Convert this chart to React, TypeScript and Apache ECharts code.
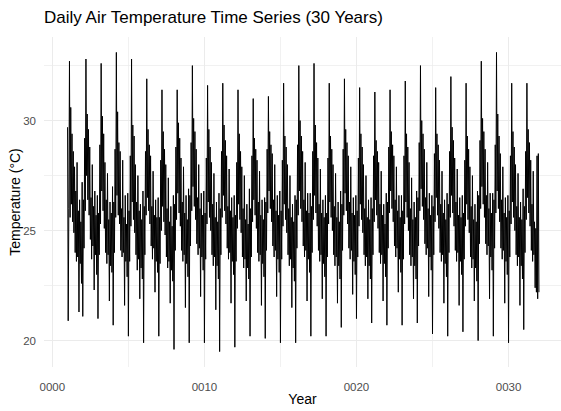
import React, { useEffect, useRef } from "react";
import * as echarts from "echarts";

// Half-monthly readings of the daily temperature trace (°C), starting at year 0001.0
const FIRST_YEAR = 1;
const STEPS_PER_YEAR = 24;

const temps0001to0010: number[] = [
  29.7, 20.9, 26.0, 32.7, 25.6, 30.6, 26.2, 29.4, 25.4, 28.6, 24.9, 27.9, 24.0, 26.8, 23.6, 28.1, 23.8, 25.9, 21.3, 26.4, 23.5, 25.4, 22.6, 27.2,
  21.1, 26.4, 24.2, 29.2, 25.9, 32.8, 27.5, 30.3, 26.4, 29.6, 25.7, 28.8, 24.6, 26.5, 23.7, 28.0, 24.3, 26.1, 22.3, 26.8, 23.9, 25.7, 23.0, 26.6,
  21.0, 25.8, 23.9, 28.9, 25.3, 32.6, 26.8, 30.2, 25.9, 29.4, 25.1, 28.1, 24.0, 26.4, 23.5, 27.6, 23.9, 25.5, 21.8, 26.3, 23.4, 25.8, 23.1, 27.0,
  20.7, 26.3, 24.0, 28.7, 25.6, 33.1, 26.6, 30.4, 25.7, 29.0, 25.3, 28.6, 24.1, 26.0, 23.8, 28.2, 24.0, 25.6, 21.6, 26.6, 23.6, 25.3, 22.9, 26.7,
  20.2, 25.9, 23.6, 28.4, 25.2, 32.8, 26.3, 29.8, 25.5, 29.3, 24.9, 28.0, 23.9, 26.3, 23.2, 27.5, 23.7, 25.9, 21.9, 26.2, 23.3, 25.5, 22.8, 26.8,
  19.9, 26.1, 23.9, 28.6, 25.7, 31.9, 26.5, 29.6, 25.9, 28.9, 25.3, 28.4, 24.3, 26.1, 23.7, 27.7, 24.2, 25.7, 22.2, 26.4, 23.6, 25.6, 23.1, 26.5,
  20.2, 25.6, 23.5, 28.2, 25.0, 31.4, 26.1, 29.5, 25.4, 28.7, 24.8, 28.0, 23.8, 26.0, 23.3, 27.4, 23.6, 25.4, 21.7, 26.1, 23.2, 25.2, 22.7, 26.6,
  19.6, 26.2, 24.1, 28.8, 25.5, 31.4, 26.7, 29.9, 25.8, 29.2, 25.2, 28.3, 24.1, 26.3, 23.6, 27.9, 23.9, 25.8, 21.5, 26.6, 23.5, 25.5, 22.9, 26.9,
  19.9, 26.6, 24.3, 29.0, 25.9, 32.5, 27.0, 30.1, 26.1, 29.5, 25.5, 28.7, 24.4, 26.5, 23.9, 28.0, 24.2, 26.0, 22.0, 26.7, 23.8, 25.7, 23.2, 26.8,
  19.9, 25.8, 23.7, 28.3, 25.3, 31.6, 26.3, 29.6, 25.6, 28.8, 25.0, 28.1, 23.9, 26.2, 23.4, 27.6, 23.8, 25.6, 21.4, 26.3, 23.4, 25.4, 22.8, 26.7,
];

const temps0011to0020: number[] = [
  19.5, 26.0, 23.9, 28.6, 25.6, 31.7, 26.6, 29.8, 25.9, 29.1, 25.3, 28.4, 24.2, 26.1, 23.7, 27.8, 24.0, 25.9, 21.7, 26.5, 23.6, 25.6, 23.0, 26.6,
  19.7, 25.7, 23.6, 28.1, 25.1, 31.4, 26.2, 29.4, 25.5, 28.6, 24.9, 27.9, 23.8, 26.0, 23.3, 27.5, 23.7, 25.5, 21.8, 26.2, 23.3, 25.3, 22.8, 26.9,
  20.2, 26.0, 23.8, 28.4, 25.4, 31.0, 26.4, 29.2, 25.7, 28.7, 25.1, 28.2, 24.0, 26.3, 23.6, 27.7, 23.9, 25.7, 21.6, 26.4, 23.5, 25.5, 22.9, 26.5,
  20.1, 26.3, 24.1, 28.7, 25.8, 31.1, 26.8, 29.5, 26.0, 28.9, 25.4, 28.5, 24.3, 26.4, 23.8, 28.0, 24.1, 25.9, 22.0, 26.6, 23.7, 25.7, 23.1, 26.8,
  19.9, 25.9, 23.7, 28.2, 25.2, 31.7, 26.2, 29.3, 25.5, 28.8, 24.9, 28.0, 23.9, 26.0, 23.4, 27.5, 23.7, 25.6, 21.5, 26.2, 23.3, 25.4, 22.7, 26.6,
  19.9, 26.4, 24.2, 28.9, 25.7, 32.5, 26.8, 30.0, 26.0, 29.3, 25.4, 28.6, 24.3, 26.4, 23.8, 28.1, 24.1, 25.9, 21.8, 26.7, 23.7, 25.8, 23.1, 26.7,
  20.2, 26.1, 24.0, 28.6, 25.5, 32.6, 26.6, 29.8, 25.8, 29.0, 25.2, 28.3, 24.1, 26.2, 23.6, 27.8, 23.9, 25.8, 21.9, 26.4, 23.5, 25.6, 22.9, 26.6,
  20.2, 25.8, 23.8, 28.3, 25.3, 31.7, 26.3, 29.3, 25.6, 28.7, 25.0, 28.0, 23.9, 26.1, 23.4, 27.6, 23.8, 25.6, 21.7, 26.3, 23.4, 25.4, 22.8, 26.8,
  20.6, 26.2, 24.1, 28.7, 25.7, 31.9, 26.7, 29.6, 25.9, 29.0, 25.3, 28.4, 24.2, 26.3, 23.7, 27.9, 24.1, 25.8, 22.1, 26.5, 23.6, 25.7, 23.0, 26.6,
  21.0, 25.9, 23.8, 28.3, 25.2, 31.5, 26.2, 29.4, 25.5, 28.8, 24.9, 28.0, 23.9, 26.0, 23.4, 27.5, 23.8, 25.6, 21.9, 26.4, 23.4, 25.5, 22.8, 26.5,
];

const temps0021to0032: number[] = [
  20.8, 26.0, 23.9, 28.4, 25.4, 31.3, 26.4, 29.1, 25.7, 28.6, 25.1, 28.1, 24.0, 26.2, 23.5, 27.7, 23.9, 25.7, 21.8, 26.2, 23.5, 25.3, 22.9, 26.7,
  20.7, 26.3, 24.2, 28.8, 25.8, 31.4, 26.8, 29.5, 26.0, 28.9, 25.4, 28.4, 24.3, 26.4, 23.8, 27.9, 24.2, 25.9, 22.2, 26.6, 23.7, 25.6, 23.1, 26.6,
  20.7, 25.9, 23.7, 28.4, 25.3, 31.8, 26.3, 29.4, 25.6, 28.8, 25.0, 28.1, 23.9, 26.0, 23.4, 27.4, 23.8, 25.5, 21.9, 26.3, 23.4, 25.6, 22.8, 26.8,
  20.8, 26.5, 24.3, 29.0, 25.9, 32.5, 26.9, 30.0, 26.1, 29.4, 25.5, 28.7, 24.4, 26.5, 23.9, 28.1, 24.2, 26.0, 22.0, 26.7, 23.8, 25.7, 23.2, 26.6,
  20.3, 26.1, 23.9, 28.5, 25.4, 31.5, 26.5, 29.4, 25.7, 28.9, 25.1, 28.2, 24.0, 26.2, 23.6, 27.7, 23.9, 25.8, 21.7, 26.4, 23.5, 25.5, 22.9, 26.7,
  20.2, 26.2, 24.0, 28.6, 25.6, 32.0, 26.6, 29.7, 25.8, 29.1, 25.2, 28.3, 24.1, 26.3, 23.6, 27.8, 24.0, 25.7, 21.6, 26.5, 23.6, 25.6, 23.0, 26.6,
  20.4, 25.8, 23.7, 28.2, 25.2, 31.7, 26.2, 29.3, 25.5, 28.7, 24.9, 27.9, 23.8, 26.1, 23.3, 27.5, 23.7, 25.5, 21.8, 26.2, 23.3, 25.4, 22.7, 26.8,
  20.0, 26.6, 24.4, 29.1, 26.0, 32.7, 27.0, 30.1, 26.2, 29.5, 25.6, 28.7, 24.4, 26.6, 23.9, 28.1, 24.3, 26.0, 21.9, 26.7, 23.8, 25.8, 23.2, 26.7,
  20.2, 26.4, 24.2, 28.9, 25.8, 33.1, 26.8, 30.3, 26.0, 29.3, 25.4, 28.5, 24.2, 26.4, 23.7, 27.9, 24.1, 25.8, 21.7, 26.5, 23.6, 25.6, 23.0, 26.6,
  19.9, 25.9, 23.8, 28.4, 25.3, 31.7, 26.3, 29.5, 25.6, 28.8, 25.0, 28.0, 23.9, 26.1, 23.4, 27.6, 23.8, 25.6, 21.6, 26.3, 23.4, 25.5, 22.8, 26.9,
  20.5, 26.1, 24.0, 28.6, 25.5, 31.7, 26.5, 29.6, 25.8, 29.0, 25.2, 28.2, 24.1, 26.2, 23.6, 27.7, 23.9, 25.4, 22.4, 25.1, 22.2, 28.4, 21.9, 28.5,
  22.2,
];

const xLabelYears = [0, 10, 20, 30];
const xGridYears = [0, 5, 10, 15, 20, 25, 30];
const yLabelTemps = [20, 25, 30];
const yGridTemps = [20, 22.5, 25, 27.5, 30, 32.5];

const FONT = "'Liberation Sans', Arial, Helvetica, sans-serif";

export default function App() {
  const ref = useRef<HTMLDivElement>(null);

  useEffect(() => {
    document.body.style.margin = "0";
    if (!ref.current) return;
    const chart = echarts.init(ref.current, undefined, { renderer: "svg" });

    const allTemps = [...temps0001to0010, ...temps0011to0020, ...temps0021to0032];
    const points = allTemps.map((t, i) => [FIRST_YEAR + i / STEPS_PER_YEAR, t]);

    const gridLines = [
      ...xGridYears.map((v) => ({
        xAxis: v,
        lineStyle: { color: "#EBEBEB", width: xLabelYears.includes(v) ? 1 : 0.7, type: "solid" },
      })),
      ...yGridTemps.map((v) => ({
        yAxis: v,
        lineStyle: { color: "#EBEBEB", width: yLabelTemps.includes(v) ? 1 : 0.7, type: "solid" },
      })),
    ];

    chart.setOption({
      animation: false,
      backgroundColor: "#ffffff",
      title: {
        text: "Daily Air Temperature Time Series (30 Years)",
        left: 44,
        top: 9,
        padding: 0,
        textStyle: { fontFamily: FONT, fontSize: 17, fontWeight: "normal", color: "#000000" },
      },
      grid: { left: 44, right: 0, top: 37, bottom: 44, containLabel: false, outerBoundsMode: "none" },
      xAxis: {
        type: "value",
        min: -0.55,
        max: 33.45,
        name: "Year",
        nameLocation: "middle",
        nameGap: 25,
        nameMoveOverlap: false,
        nameTextStyle: { fontFamily: FONT, fontSize: 14, color: "#000000" },
        axisLine: { show: false },
        axisTick: { show: false },
        splitLine: { show: false },
        axisLabel: {
          customValues: xLabelYears,
          margin: 14,
          fontFamily: FONT,
          fontSize: 11.5,
          color: "#4D4D4D",
          formatter: (v: number) => String(Math.round(v)).padStart(4, "0"),
        },
      },
      yAxis: {
        type: "value",
        min: 18.8,
        max: 33.8,
        name: "Temperature (°C)",
        nameLocation: "middle",
        nameRotate: 90,
        nameGap: 22,
        nameMoveOverlap: false,
        nameTextStyle: { fontFamily: FONT, fontSize: 14, color: "#000000" },
        axisLine: { show: false },
        axisTick: { show: false },
        splitLine: { show: false },
        axisLabel: {
          customValues: yLabelTemps,
          margin: 8,
          fontFamily: FONT,
          fontSize: 11.5,
          color: "#4D4D4D",
          formatter: (v: number) => String(Math.round(v)),
        },
      },
      series: [
        {
          type: "line",
          data: [],
          silent: true,
          z: 1,
          markLine: {
            silent: true,
            z: 1,
            symbol: "none",
            label: { show: false },
            emphasis: { disabled: true },
            animation: false,
            data: gridLines,
          },
        },
        {
          type: "line",
          data: points,
          z: 3,
          showSymbol: false,
          symbol: "none",
          smooth: false,
          silent: true,
          lineStyle: { color: "#000000", width: 1 },
        },
      ],
    });

    return () => chart.dispose();
  }, []);

  return (
    <div
      ref={ref}
      style={{ position: "absolute", left: 0, top: 0, width: 561, height: 411 }}
    />
  );
}
